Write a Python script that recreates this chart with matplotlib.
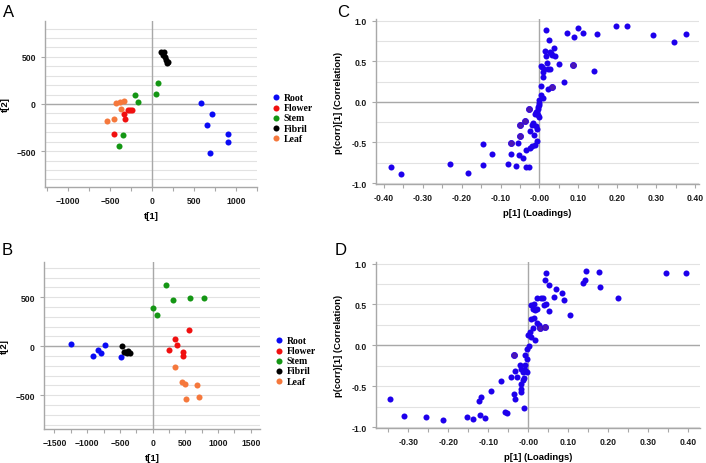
import matplotlib.pyplot as plt
from matplotlib.ticker import MultipleLocator

# Score plot A
groups = ["Root", "Flower", "Stem", "Fibril", "Leaf"]
colors = ["#0a0af5", "#f01010", "#149614", "#000000", "#f5783c"]

a_root_x = [581, 709, 653, 904, 904, 688]
a_root_y = [6, -107, -223, -323, -401, -521]
a_flower_x = [-268, -239, -339, -327, -459, -290]
a_flower_y = [-64, -64, -103, -156, -313, -64]
a_stem_x = [72, 43, -208, -167, -351, -391]
a_stem_y = [227, 110, 92, 24, -327, -440]
a_fibril_x = [108, 147, 131, 159, 171, 191, 179]
a_fibril_y = [553, 553, 517, 500, 471, 447, 436]
a_leaf_x = [-427, -379, -339, -367, -451, -531]
a_leaf_y = [11, 21, 28, -50, -156, -178]

# Score plot B
b_root_x = [-1251, -735, -833, -791, -918, -481]
b_root_y = [20, 13, -38, -68, -99, -112]
b_flower_x = [556, 341, 367, 250, 469, 459]
b_flower_y = [166, 78, 10, -41, -58, -102]
b_stem_x = [204, 306, 576, 790, 5, 66]
b_stem_y = [626, 472, 490, 496, 394, 322]
b_fibril_x = [-470, -424, -383, -347, -398, -440]
b_fibril_y = [0, -55, -45, -71, -68, -60]
b_leaf_x = [337, 444, 490, 683, 514, 704]
b_leaf_y = [-208, -367, -388, -395, -535, -514]

# Loadings C
c_x = [0.018, 0.070, 0.090, 0.100, 0.113, 0.149, 0.196, 0.225, 0.291, 0.347, 0.376,
       0.024, 0.015, 0.038, 0.027, 0.031, 0.039, 0.017, 0.049, 0.019, 0.022, 0.007,
       0.010, 0.010, 0.141, 0.062, 0.005, 0.021, 0.003, 0.010, 0.000, 0.012, 0.030,
       0.004, 0.026,
       -0.001, -0.003, -0.009, -0.004, -0.001, -0.017, -0.010, -0.007, -0.024, -0.015,
       -0.007, -0.054, -0.146, -0.011, -0.023, -0.034, -0.074, -0.123, -0.053, -0.041,
       -0.081, -0.059, -0.144, -0.231, -0.034, -0.026, -0.184, -0.382, -0.357,
       -0.002, -0.006, -0.012, -0.020, -0.018, -0.005]
c_y = [0.885, 0.844, 0.803, 0.906, 0.844, 0.832, 0.930, 0.930, 0.824, 0.738, 0.840,
       0.766, 0.623, 0.660, 0.611, 0.578, 0.561, 0.561, 0.471, 0.475, 0.402, 0.426,
       0.365, 0.303, 0.385, 0.242, 0.201, 0.152, 0.078, 0.049, 0.025, 0.40, 0.60,
       0.44, 0.41,
       -0.045, -0.086, -0.127, -0.168, -0.189, -0.258, -0.303, -0.340, -0.365, -0.414,
       -0.488, -0.508, -0.525, -0.537, -0.566, -0.590, -0.643, -0.639, -0.660, -0.697,
       -0.762, -0.787, -0.779, -0.770, -0.803, -0.799, -0.877, -0.807, -0.893,
       -0.02, -0.13, -0.15, -0.28, -0.55, -0.06]
c_px = [0.087, 0.031, -0.027, -0.037, -0.051, -0.051, -0.073]
c_py = [0.455, 0.180, -0.086, -0.242, -0.291, -0.426, -0.504]

# Loadings D
d_x = [-0.345, -0.311, -0.257, -0.214, -0.154, -0.138, -0.109, -0.121, -0.122, -0.118,
       -0.093, -0.068, -0.042, -0.032, -0.027, -0.035, -0.034, -0.058, -0.053, -0.011,
       -0.018, -0.018, -0.018, -0.013, -0.011, -0.021, -0.017, -0.014, -0.008, -0.004,
       -0.007, -0.004, -0.007, -0.002, 0.002, 0.000, 0.004, 0.008, 0.018, 0.011,
       0.008, 0.015, 0.021, 0.026, 0.008, 0.015, 0.017, 0.011, 0.021, 0.023,
       0.032, 0.038, 0.040, 0.044, 0.051, 0.065, 0.090, 0.084, 0.070, 0.052,
       0.042, 0.045, 0.104, 0.136, 0.142, 0.144, 0.176, 0.179, 0.225, 0.346, 0.395]
d_y = [-0.652, -0.859, -0.880, -0.912, -0.880, -0.900, -0.892, -0.855, -0.684, -0.635,
       -0.558, -0.432, -0.387, -0.310, -0.387, -0.599, -0.660, -0.815, -0.827, -0.766,
       -0.530, -0.570, -0.468, -0.428, -0.399, -0.244, -0.285, -0.326, -0.305, -0.326,
       -0.244, -0.163, -0.122, -0.041, -0.008, 0.130, 0.163, 0.102, 0.069, 0.212,
       0.326, 0.334, 0.277, 0.244, 0.489, 0.509, 0.436, 0.448, 0.440, 0.578,
       0.578, 0.578, 0.497, 0.505, 0.424, 0.595, 0.550, 0.640, 0.692, 0.733,
       0.802, 0.880, 0.371, 0.766, 0.794, 0.908, 0.892, 0.709, 0.574, 0.888, 0.880]
d_px = [-0.035, 0.029, 0.043]
d_py = [-0.114, 0.212, 0.228]

TICK_FONT = "Liberation Sans"
GRAY = "#a8a8a8"


def style_axes(ax, xminor, ygrid):
    for s in ["top", "right"]:
        ax.spines[s].set_visible(False)
    for s in ["left", "bottom"]:
        ax.spines[s].set_color(GRAY)
        ax.spines[s].set_linewidth(1.0)
    ax.axhline(0, color=GRAY, lw=1.0, zorder=1)
    ax.axvline(0, color=GRAY, lw=1.0, zorder=1)
    ax.yaxis.set_minor_locator(MultipleLocator(ygrid))
    ax.xaxis.set_minor_locator(MultipleLocator(xminor))
    ax.grid(True, which="both", axis="y", color="#e2e2e2", lw=0.8, zorder=0)
    ax.set_axisbelow(True)
    ax.tick_params(which="both", colors=GRAY, labelcolor="#1a1a1a",
                   labelsize=6.2, length=3, width=0.8)
    ax.tick_params(which="minor", axis="y", length=0)
    for lab in ax.get_xticklabels() + ax.get_yticklabels():
        lab.set_fontfamily(TICK_FONT)
        lab.set_fontweight("bold")


def score_plot(ax, data, xlim, ylim, xticks):
    for (x, y), name, c in zip(data, groups, colors):
        ax.scatter(x, y, s=19, color=c, label=name, zorder=3, linewidths=0)
    ax.set_xlim(*xlim)
    ax.set_ylim(*ylim)
    ax.set_xticks(xticks)
    ax.set_yticks([-500, 0, 500])
    style_axes(ax, 250, 100)
    lab = dict(fontfamily=TICK_FONT, fontweight="bold", fontsize=6.8)
    ax.set_xlabel("t[1]", labelpad=4, **lab)
    ax.set_ylabel("t[2]", labelpad=5, **lab)


def loading_plot(ax, x, y, px, py, xlim, xticks):
    ax.scatter(x, y, s=19, color="#1e00ec", zorder=3, linewidths=0)
    ax.scatter(px, py, s=19, color="#4a16b4", edgecolors="#2a00e0",
               linewidths=0.6, zorder=3)
    ax.set_xlim(*xlim)
    ax.set_ylim(-1.012, 1.02)
    ax.set_xticks(xticks)
    ax.set_xticklabels(["%.2f" % t if abs(t) > 1e-9 else "-0.00" for t in xticks])
    ax.set_yticks([-1.0, -0.5, 0.0, 0.5, 1.0])
    ax.set_yticklabels(["-1.0", "-0.5", "0.0", "0.5", "1.0"])
    style_axes(ax, 0.05, 0.25)
    lab = dict(fontfamily=TICK_FONT, fontweight="bold", fontsize=6.8)
    ax.set_xlabel("p[1] (Loadings)", labelpad=4, **lab)
    ax.set_ylabel("p(corr)[1] (Correlation)", labelpad=6, **lab)


fig = plt.figure(figsize=(7.06, 4.64), dpi=100)
W, H = 706, 464


def add_axes(left, top, right, bottom):
    return fig.add_axes([left / W, 1 - bottom / H, (right - left) / W, (bottom - top) / H])


ax_a = add_axes(45, 22, 257, 188)
ax_c = add_axes(376, 20, 699, 185)
ax_b = add_axes(44, 263, 260, 430)
ax_d = add_axes(376, 263, 700, 429)

score_plot(ax_a,
           [(a_root_x, a_root_y), (a_flower_x, a_flower_y), (a_stem_x, a_stem_y),
            (a_fibril_x, a_fibril_y), (a_leaf_x, a_leaf_y)],
           (-1275, 1250), (-880, 880), [-1000, -500, 0, 500, 1000])
score_plot(ax_b,
           [(b_root_x, b_root_y), (b_flower_x, b_flower_y), (b_stem_x, b_stem_y),
            (b_fibril_x, b_fibril_y), (b_leaf_x, b_leaf_y)],
           (-1660, 1640), (-845, 860), [-1500, -1000, -500, 0, 500, 1000, 1500])
loading_plot(ax_c, c_x, c_y, c_px, c_py, (-0.42, 0.41),
             [-0.4, -0.3, -0.2, -0.1, 0.0, 0.1, 0.2, 0.3, 0.4])
loading_plot(ax_d, d_x, d_y, d_px, d_py, (-0.381, 0.43),
             [-0.3, -0.2, -0.1, 0.0, 0.1, 0.2, 0.3, 0.4])

# legends for score plots
leg_font = dict(family="Liberation Serif", weight="bold", size=7)
for ax, (lx, ly) in [(ax_a, (270, 94)), (ax_b, (273, 337))]:
    ax.legend(loc="upper left", bbox_to_anchor=(lx / W, 1 - ly / H),
              bbox_transform=fig.transFigure, frameon=False, prop=leg_font,
              handletextpad=0.2, labelspacing=0.12, borderpad=0, borderaxespad=0,
              handlelength=1.2, markerscale=1.0)

# panel letters
for letter, x, y in [("A", 3, 5), ("C", 337, 5), ("B", 2, 243), ("D", 335, 243)]:
    fig.text(x / W, 1 - y / H, letter, fontsize=12, fontfamily="Liberation Sans",
             va="top", ha="left")

fig.savefig("out.png", dpi=100)
